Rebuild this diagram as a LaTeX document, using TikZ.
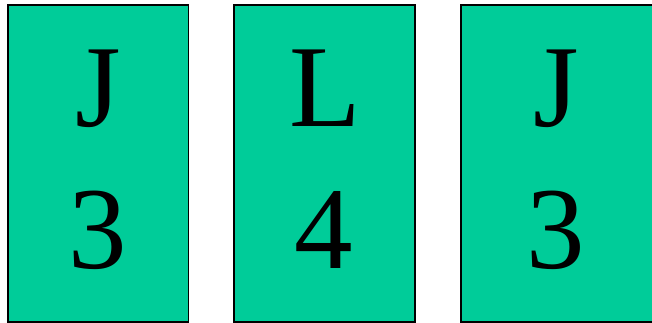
\documentclass[tikz,border=0pt]{standalone}
\usepackage{fontspec}
\setmainfont{Liberation Serif}
\definecolor{card}{HTML}{00CC99}
\begin{document}
\begin{tikzpicture}[x=1pt,y=-1pt,
  cardbox/.style={draw=black,line width=1.5pt,fill=card},
  glyph/.style={anchor=base,inner sep=0pt,font=\fontsize{117}{117}\selectfont}]
\useasboundingbox (0,0) rectangle (652,323);
\clip (0,0) rectangle (652,323);
\draw[cardbox] (8,5) rectangle (188.5,322);
\draw[cardbox] (234,5) rectangle (415,322);
\draw[cardbox] (461,5) rectangle (670,322);
\node[glyph] (j1) at (98,127) {J};
\node[glyph] (n1) at (97.5,268) {3};
\node[glyph] (l2) at (325,127) {L};
\node[glyph] (n2) at (324,268) {4};
\node[glyph] (j3) at (556,127) {J};
\node[glyph] (n3) at (556,268) {3};
\end{tikzpicture}
\end{document}
